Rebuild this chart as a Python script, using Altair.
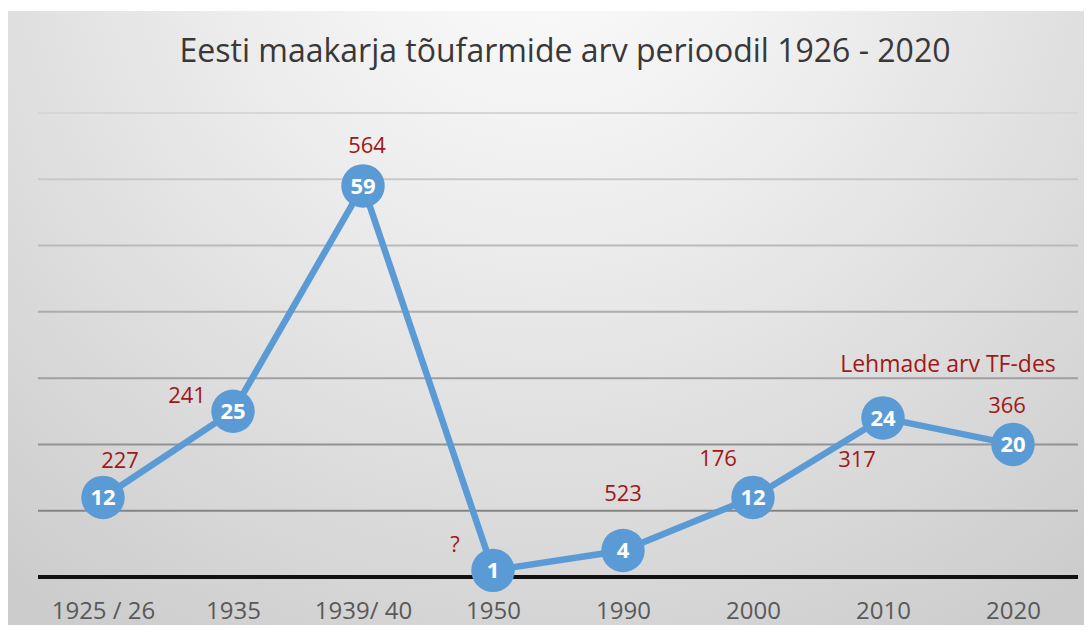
import altair as alt
import pandas as pd

# ---- data ----
categories = ["1925 / 26", "1935", "1939/ 40", "1950", "1990", "2000", "2010", "2020"]
farms = [12, 25, 59, 1, 4, 12, 24, 20]
cows = ["227", "241", "564", "?", "523", "176", "317", "366"]
grid_values = [10, 20, 30, 40, 50, 60, 70]
baseline_values = [0]
legend_text = "Lehmade arv TF-des"
legend_cat = ["2010"]
legend_val = [24]
title_text = "Eesti maakarja tõufarmide arv perioodil 1926 - 2020"

# ---- styles (pixel offsets of the red annotations) ----
cow_dx = [17, -46, 4, -38, 0, -35, -26, -6]
cow_dy = [-36, -15, -40, -25, -56, -38, 42, -38]

W, H = 1040, 464
PAD = {"left": 30, "top": 105, "right": 6, "bottom": 48}
BLUE = "#5b9bd5"
RED = "#a01818"

df = pd.DataFrame({"cat": categories, "farms": farms, "cows": cows, "i": list(range(len(categories)))})

yscale = alt.Scale(domain=[0, 70], nice=False, zero=True)
x_axis = alt.Axis(title=None, labelAngle=0, domain=False, ticks=False, grid=False,
                  labelFontSize=24, labelFont="Open Sans", labelColor="#595959",
                  labelPadding=22, zindex=1)
xenc = alt.X("cat:N", sort=categories, axis=x_axis)
yenc = alt.Y("farms:Q", scale=yscale, axis=None)

gradient = {
    "gradient": "radial",
    "x1": 0.5, "y1": 0.12, "r1": 0,
    "x2": 0.5, "y2": 0.12, "r2": 0.8,
    "stops": [
        {"offset": 0, "color": "#fdfdfd"},
        {"offset": 0.35, "color": "#eeeeee"},
        {"offset": 1, "color": "#cccccc"},
    ],
}

bg = alt.Chart(alt.Data(values=[{}])).mark_rect(color=gradient).encode(
    x=alt.value(-PAD["left"]), x2=alt.value(W + PAD["right"]),
    y=alt.value(-PAD["top"] + 3), y2=alt.value(H + PAD["bottom"])
)

grid = alt.Chart(pd.DataFrame({"v": grid_values})).mark_rule(strokeWidth=2).encode(
    y=alt.Y("v:Q", scale=yscale, axis=None),
    x=alt.value(0), x2=alt.value(W),
    color=alt.Color("v:Q", scale=alt.Scale(domain=[10, 70], range=["#858585", "#d6d6d6"]), legend=None),
)

base = alt.Chart(pd.DataFrame({"v": baseline_values})).mark_rule(strokeWidth=4, color="#111111").encode(
    y=alt.Y("v:Q", scale=yscale, axis=None),
    x=alt.value(0), x2=alt.value(W),
)

line = alt.Chart(df).mark_line(color=BLUE, strokeWidth=6.5).encode(x=xenc, y=yenc)
dots = alt.Chart(df).mark_circle(color=BLUE, size=1890, opacity=1).encode(x=xenc, y=yenc)
nums = alt.Chart(df).mark_text(color="white", fontWeight="bold", fontSize=22, font="Open Sans",
                               baseline="middle", dy=1).encode(x=xenc, y=yenc, text="farms:Q")

cow_layers = []
for i in range(len(categories)):
    cow_layers.append(
        alt.Chart(df).transform_filter(alt.datum.i == i).mark_text(
            color=RED, fontSize=22, font="Open Sans", baseline="middle",
            dx=cow_dx[i], dy=cow_dy[i]
        ).encode(x=xenc, y=yenc, text="cows:N")
    )

legend = alt.Chart(pd.DataFrame({"cat": legend_cat, "farms": legend_val, "t": [legend_text]})).mark_text(
    color=RED, fontSize=23, font="Open Sans", baseline="middle", dx=65, dy=-53
).encode(x=xenc, y=yenc, text="t:N")

title = alt.Chart(alt.Data(values=[{"t": title_text}])).mark_text(
    fontSize=32, font="Open Sans", color="#383838", baseline="middle", align="center"
).encode(text="t:N", x=alt.value(527), y=alt.value(-61))

chart = alt.layer(bg, grid, base, line, dots, nums, *cow_layers, legend, title).properties(
    width=W, height=H, padding=PAD, autosize="none"
).configure_view(stroke=None).configure(background="white")

chart.save("out.html", embed_options={"renderer": "svg", "actions": False})
